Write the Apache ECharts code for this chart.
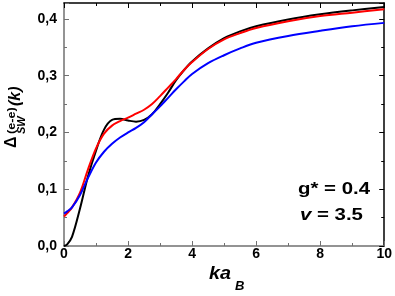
<!DOCTYPE html>
<html>
<head>
<meta charset="utf-8">
<script src="https://cdn.jsdelivr.net/npm/echarts@6/dist/echarts.min.js"></script>
<style>
html,body{margin:0;padding:0;background:#fff;}
#chart{width:395px;height:296px;}
</style>
</head>
<body>
<div id="chart"></div>
<script>
var kValues = [0, 0.1, 0.25, 0.5, 0.75, 1.0, 1.25, 1.5, 1.75, 2.0, 2.25, 2.5, 2.75, 3.0, 3.25, 3.5, 3.75, 4.0, 4.5, 5.0, 5.5, 6, 7, 8, 9, 10];
var blackCurve = [0.000, 0.003, 0.016, 0.066, 0.123, 0.168, 0.205, 0.222, 0.224, 0.221, 0.219, 0.222, 0.232, 0.250, 0.270, 0.292, 0.310, 0.325, 0.348, 0.366, 0.378, 0.387, 0.399, 0.408, 0.415, 0.421];
var redCurve   = [0.052, 0.058, 0.068, 0.094, 0.135, 0.172, 0.198, 0.212, 0.220, 0.226, 0.233, 0.240, 0.250, 0.264, 0.279, 0.294, 0.310, 0.324, 0.347, 0.364, 0.375, 0.384, 0.396, 0.405, 0.411, 0.417];
var blueCurve  = [0.057, 0.061, 0.068, 0.090, 0.120, 0.147, 0.166, 0.180, 0.191, 0.200, 0.208, 0.218, 0.232, 0.246, 0.261, 0.276, 0.290, 0.303, 0.322, 0.336, 0.348, 0.358, 0.370, 0.379, 0.387, 0.393];
var xTicks = {min: 0, max: 10, interval: 2};
var yTicks = {min: 0, max: 0.428, interval: 0.1};
var annotationG = 'g* = 0.4';
var annotationV = '{i|v} = 3.5';

function pairs(xs, ys) { return xs.map(function (x, i) { return [x, ys[i]]; }); }

var FONT = '"Liberation Sans", Arial, sans-serif';
var chart = echarts.init(document.getElementById('chart'), null, {renderer: 'canvas'});

function xAxisCfg(pos, color, showLabel) {
  return {
    type: 'value', position: pos, min: xTicks.min, max: xTicks.max, interval: xTicks.interval,
    axisLine: {show: true, onZero: false, lineStyle: {color: color, width: 1.5}},
    axisTick: {show: true, inside: true, length: 5, lineStyle: {color: color, width: 1}},
    minorTick: {show: true, splitNumber: 2, length: 3, lineStyle: {color: color, width: 1}},
    splitLine: {show: false},
    axisLabel: {show: showLabel, color: '#000', fontFamily: FONT, fontWeight: 'bold', fontSize: 14, margin: 1}
  };
}
function yAxisCfg(pos, color, showLabel) {
  return {
    type: 'value', position: pos, min: yTicks.min, max: yTicks.max, interval: yTicks.interval,
    axisLine: {show: true, onZero: false, lineStyle: {color: color, width: 1.5}},
    axisTick: {show: true, inside: true, length: 5, lineStyle: {color: color, width: 1}},
    minorTick: {show: true, splitNumber: 2, length: 3, lineStyle: {color: color, width: 1}},
    splitLine: {show: false},
    axisLabel: {
      show: showLabel, showMaxLabel: false, color: '#000', fontFamily: FONT, fontWeight: 'bold', fontSize: 14, margin: 7,
      formatter: function (v) { return v > 0.405 ? '' : v.toFixed(1).replace('.', ','); }
    }
  };
}

function lineSeries(name, ys, color, xi) {
  return {
    name: name, type: 'line', data: pairs(kValues, ys), showSymbol: false, symbol: 'none',
    smooth: 0.35, lineStyle: {color: color, width: 2}, xAxisIndex: 0, yAxisIndex: 0, z: xi
  };
}

chart.setOption({
  animation: false,
  backgroundColor: '#fff',
  grid: {left: 64, right: 8, top: 3, bottom: 50, containLabel: false},
  xAxis: [xAxisCfg('bottom', '#707070', true), xAxisCfg('top', '#000', false)],
  yAxis: [yAxisCfg('left', '#707070', true), yAxisCfg('right', '#000', false)],
  series: [
    lineSeries('black', blackCurve, '#000000', 2),
    lineSeries('red', redCurve, '#ff0000', 3),
    lineSeries('blue', blueCurve, '#0000ff', 4)
  ],
  graphic: [
    {
      type: 'group', x: 0, y: 148, rotation: Math.PI / 2,
      children: [
        {type: 'text', x: 0, y: 11.5, style: {text: 'Δ', font: 'bold 16px ' + FONT, fill: '#000', textAlign: 'left', textVerticalAlign: 'middle', align: 'left', verticalAlign: 'middle'}},
        {type: 'text', x: 14, y: 11.5, scaleX: 1.15, style: {text: '(e-e)', font: 'bold 11px ' + FONT, fill: '#000', textAlign: 'left', textVerticalAlign: 'middle', align: 'left', verticalAlign: 'middle'}},
        {type: 'text', x: 14, y: 21.5, style: {text: 'SW', font: 'italic bold 11px ' + FONT, fill: '#000', textAlign: 'left', textVerticalAlign: 'middle', align: 'left', verticalAlign: 'middle'}},
        {type: 'text', x: 42, y: 15.5, style: {text: '(k)', font: 'italic bold 16px ' + FONT, fill: '#000', textAlign: 'left', textVerticalAlign: 'middle', align: 'left', verticalAlign: 'middle'}}
      ]
    },
    {type: 'text', x: 209, y: 274, scaleX: 1.1, style: {text: 'ka', font: 'italic bold 18px ' + FONT, fill: '#000', textAlign: 'left', textVerticalAlign: 'middle', align: 'left', verticalAlign: 'middle'}},
    {type: 'text', x: 235, y: 286, style: {text: 'B', font: 'italic bold 13px ' + FONT, fill: '#000', textAlign: 'left', textVerticalAlign: 'middle', align: 'left', verticalAlign: 'middle'}},
    {type: 'text', x: 298, y: 189, scaleX: 1.2, style: {text: annotationG, font: 'bold 17px ' + FONT, fill: '#000', textAlign: 'left', textVerticalAlign: 'middle', align: 'left', verticalAlign: 'middle'}},
    {type: 'text', x: 300, y: 215, scaleX: 1.2, style: {text: annotationV, font: 'bold 17px ' + FONT, fill: '#000', textAlign: 'left', textVerticalAlign: 'middle', align: 'left', verticalAlign: 'middle',
      rich: {i: {font: 'italic bold 17px ' + FONT, fill: '#000'}}}}
  ]
});
</script>
</body>
</html>
